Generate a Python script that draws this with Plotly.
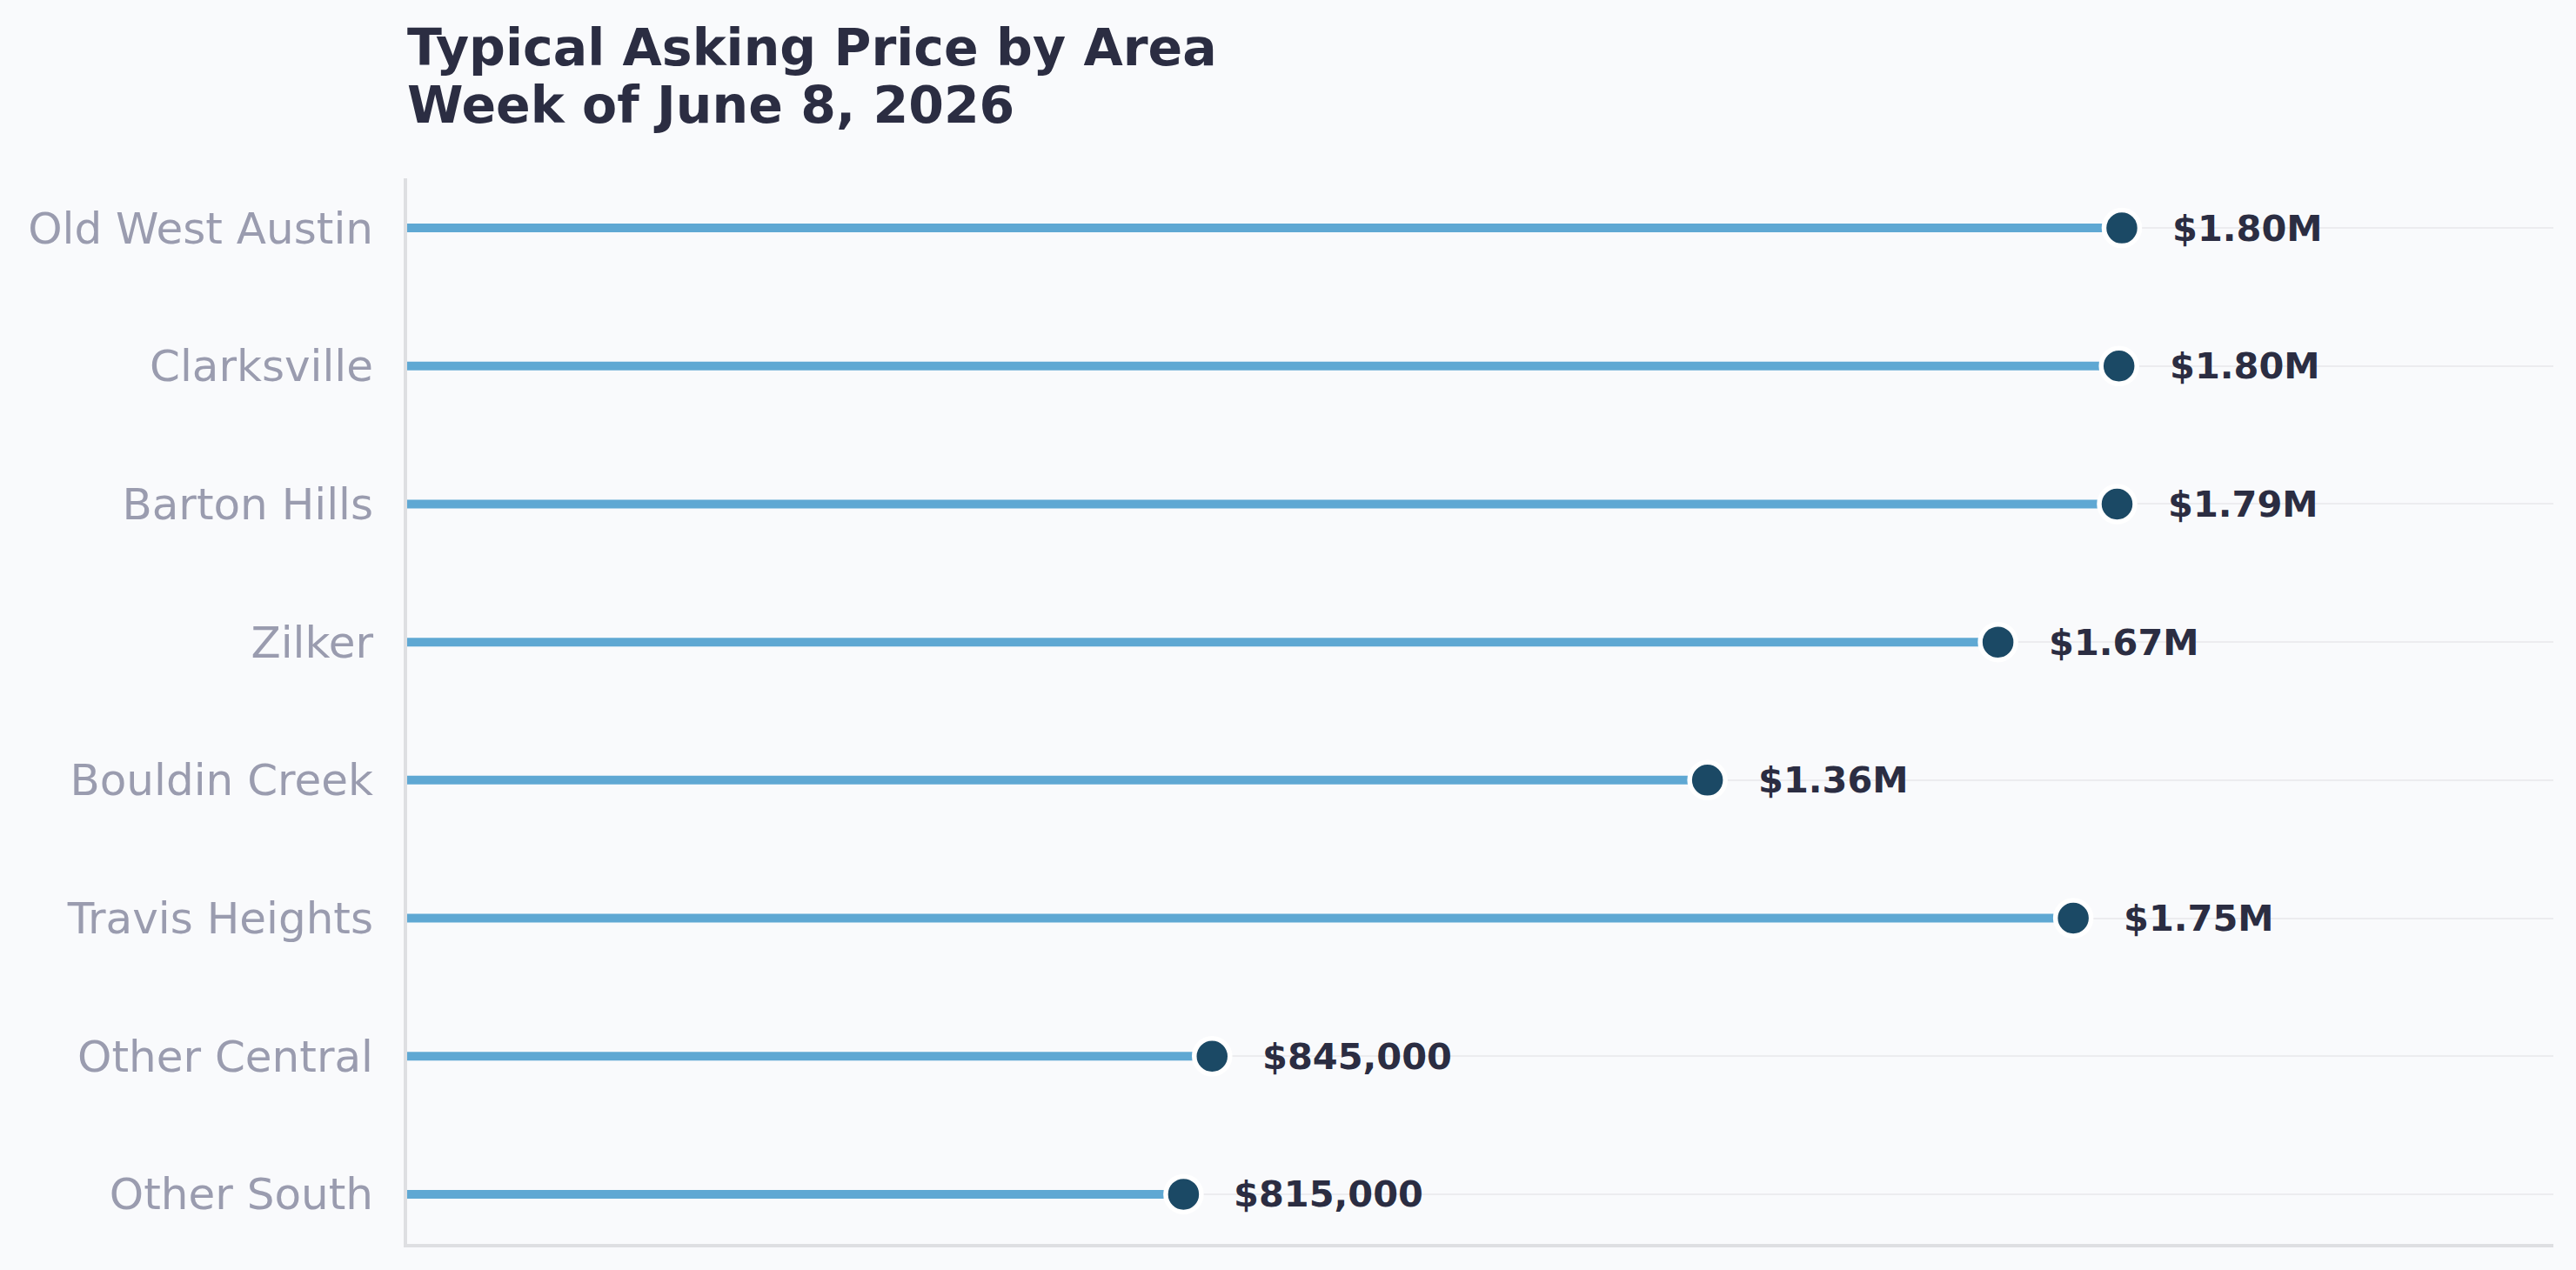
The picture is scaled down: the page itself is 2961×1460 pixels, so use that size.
import plotly.graph_objects as go

areas = ["Old West Austin", "Clarksville", "Barton Hills", "Zilker",
         "Bouldin Creek", "Travis Heights", "Other Central", "Other South"]
prices = [1800000, 1797000, 1795000, 1670000, 1365000, 1749000, 845000, 815000]
price_labels = ["$1.80M", "$1.80M", "$1.79M", "$1.67M", "$1.36M", "$1.75M",
                "$845,000", "$815,000"]

title_line1 = "Typical Asking Price by Area"
title_line2 = "Week of June 8, 2026"

BG = "#f9fafc"
STEM = "#5fa8d3"
DOT = "#1b4965"
TEXT = "#2b2d42"
TICK = "#9a9caf"

stem_x, stem_y = [], []
for a, p in zip(areas, prices):
    stem_x += [0, p, None]
    stem_y += [a, a, None]

fig = go.Figure()
fig.add_trace(go.Scatter(x=stem_x, y=stem_y, mode="lines",
                         line=dict(color=STEM, width=10),
                         hoverinfo="skip", showlegend=False))
fig.add_trace(go.Scatter(x=prices, y=areas, mode="markers",
                         marker=dict(size=41, color=DOT,
                                     line=dict(color="white", width=5.5)),
                         showlegend=False))

for a, p, lab in zip(areas, prices, price_labels):
    fig.add_annotation(x=p, y=a, text=f"<b>{lab}</b>", showarrow=False,
                       xanchor="left", yanchor="middle", xshift=56,
                       font=dict(family="DejaVu Sans", size=41.5, color=TEXT))

# Two-line title
for txt, yp in [(title_line1, 1.1222), (title_line2, 1.0684)]:
    fig.add_annotation(x=0, xref="paper", y=yp, yref="paper",
                       text=f"<b>{txt}</b>", showarrow=False,
                       xanchor="left", yanchor="middle", xshift=-2,
                       font=dict(family="DejaVu Sans", size=58.5, color=TEXT))

fig.update_layout(
    width=2961, height=1460,
    margin=dict(l=468, r=26, t=205, b=30),
    paper_bgcolor=BG, plot_bgcolor=BG,
    font=dict(family="DejaVu Sans"),
)
fig.update_xaxes(range=[0, 2253000], showgrid=False, zeroline=False,
                 showticklabels=False, ticks="",
                 showline=True, linecolor="#dedfe2", linewidth=4)
fig.update_yaxes(type="category", categoryorder="array", categoryarray=areas,
                 range=[7.36, -0.36], showgrid=True, gridcolor="#ececef",
                 gridwidth=2, zeroline=False, ticks="", ticklabelstandoff=25,
                 tickfont=dict(family="DejaVu Sans", size=50, color=TICK),
                 showline=True, linecolor="#dedfe2", linewidth=4)

fig.write_html("out.html")
